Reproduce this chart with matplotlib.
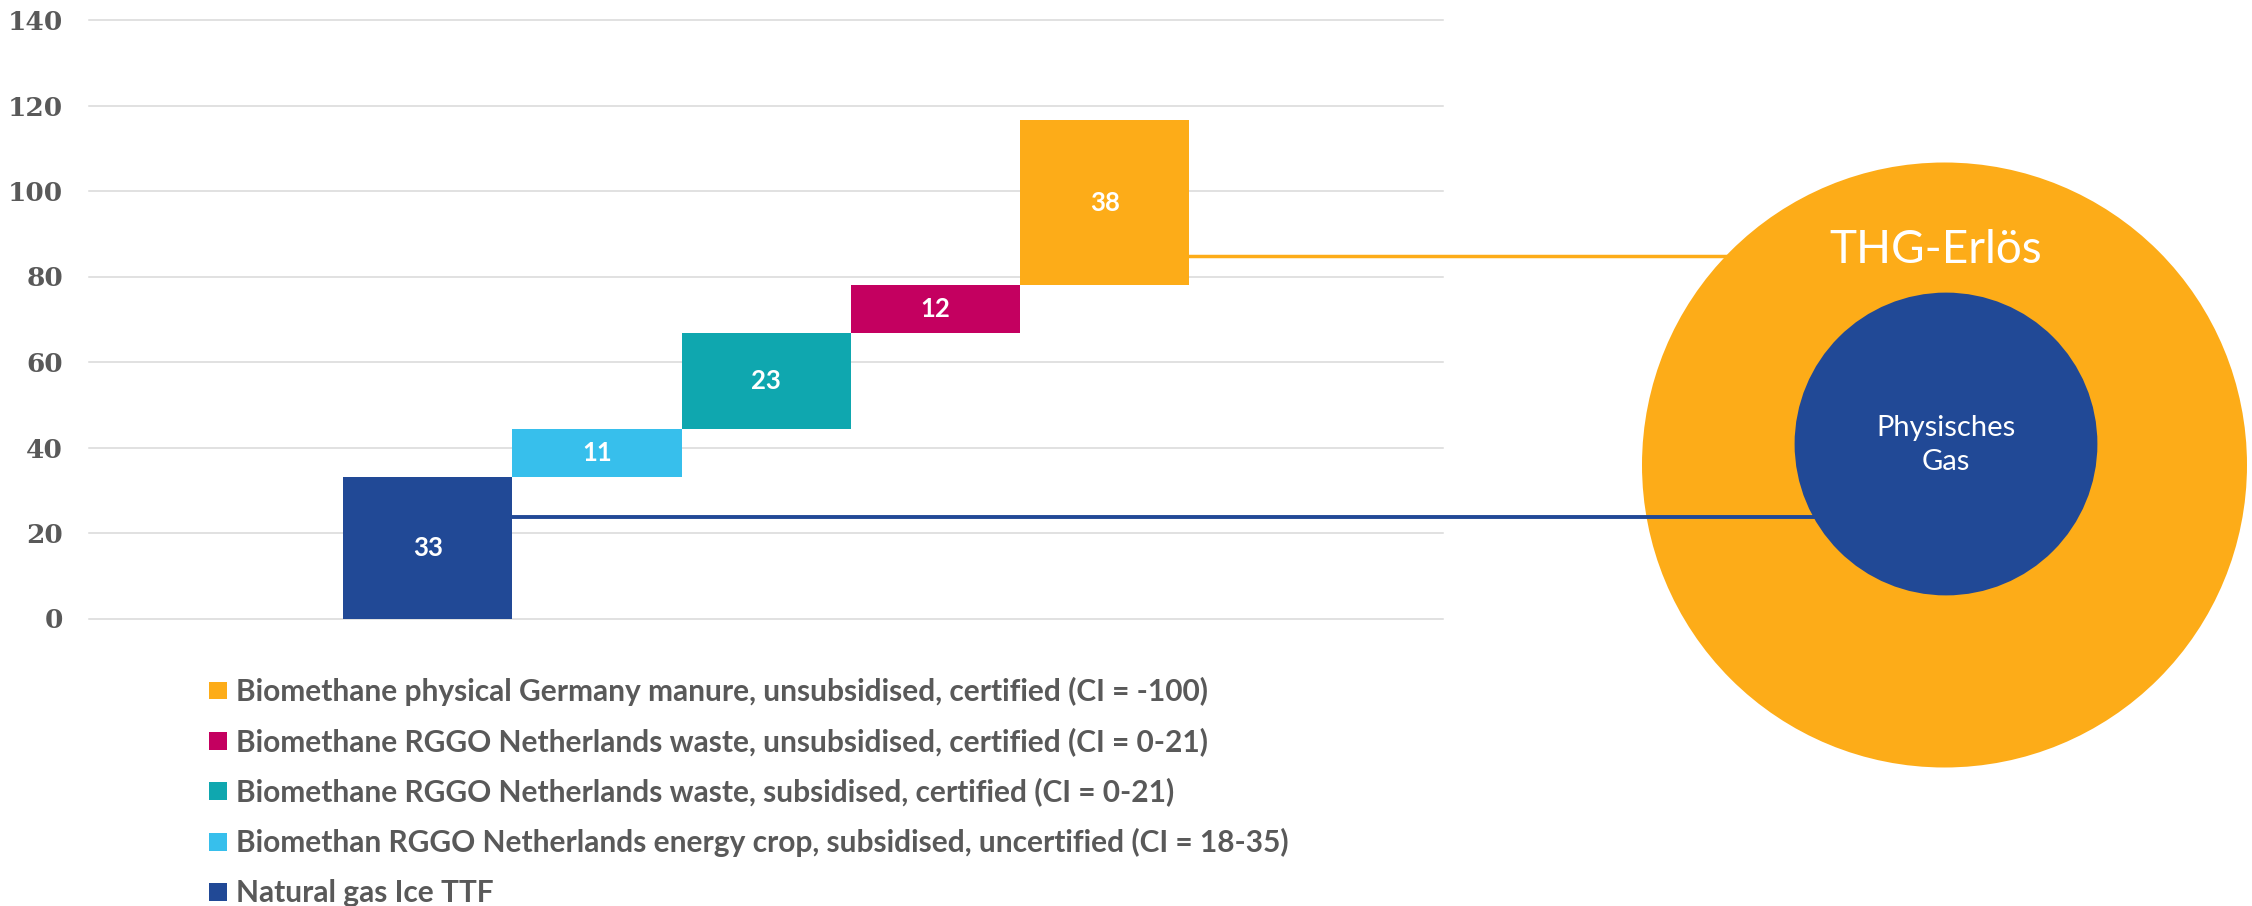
import matplotlib.pyplot as plt
from matplotlib.patches import Circle, Rectangle
import numpy as np

# Daten (Wasserfall, von unten nach oben)
series = [
    "Natural gas Ice TTF",
    "Biomethan RGGO Netherlands energy crop, subsidised, uncertified (CI = 18-35)",
    "Biomethane RGGO Netherlands waste, subsidised, certified (CI = 0-21)",
    "Biomethane RGGO Netherlands waste, unsubsidised, certified (CI = 0-21)",
    "Biomethane physical Germany manure, unsubsidised, certified (CI = -100)",
]
values = [33.1, 11.2, 22.4, 11.3, 38.5]
value_labels = ["33", "11", "23", "12", "38"]
colors = ["#214996", "#37bfec", "#0fa7af", "#c40060", "#fdac18"]
yticks = [0, 20, 40, 60, 80, 100, 120, 140]

# Verbindungslinien (Höhe im Diagramm)
gas_level = 23.7
thg_level = 84.7

W, H = 2252, 906
grey = "#595959"

fig = plt.figure(figsize=(W / 100, H / 100), dpi=100)
ax = fig.add_axes([89.5 / W, (H - 618.5) / H, (1443 - 89.5) / W, (618.5 - 20) / H])

x = np.arange(len(values))
bottoms = np.concatenate([[0], np.cumsum(values)[:-1]])
bars = ax.bar(x, values, bottom=bottoms, width=1.0, color=colors, zorder=3)
ax.bar_label(bars, labels=value_labels, label_type="center", color="white",
             fontsize=18.5, fontweight="bold", family="Lato")

ax.set_xlim(-2, 6)
ax.set_ylim(0, 140)
for t in yticks:
    ax.axhline(t, color="#d9d9d9", linewidth=1.1, zorder=1, clip_on=False)
ax.set_yticks(yticks)
ax.set_xticks([])
ax.tick_params(axis="y", length=0, pad=19, labelsize=19, labelcolor=grey)
for lab in ax.get_yticklabels():
    lab.set_family("DejaVu Serif")
    lab.set_fontweight("bold")
for s in ax.spines.values():
    s.set_visible(False)

# Overlay in Pixelkoordinaten für Kreise, Linien und Legende
ov = fig.add_axes([0, 0, 1, 1], zorder=2)
ov.set_xlim(0, W)
ov.set_ylim(H, 0)
ov.axis("off")
ov.patch.set_visible(False)

outer_c, outer_r = (1944.5, 465), 302.5
inner_c, inner_r = (1946, 444), 151.4

def to_px(xd, yd):
    px, py = ax.transData.transform((xd, yd))
    return px, H - py

# orange Linie unter dem großen Kreis
x0, y0 = to_px(x[-1] + 0.5, thg_level)
ov.plot([x0, outer_c[0]], [y0, y0], color=colors[-1], linewidth=2.5, zorder=1)
ov.add_patch(Circle(outer_c, outer_r, color=colors[-1], zorder=2, linewidth=0))
# blaue Linie über dem großen Kreis
x1, y1 = to_px(x[0] + 0.5, gas_level)
ov.plot([x1, inner_c[0]], [y1, y1], color=colors[0], linewidth=2.8, zorder=3)
ov.add_patch(Circle(inner_c, inner_r, color=colors[0], zorder=4, linewidth=0))

ov.text(1936, 250, "THG-Erlös", color="white", fontsize=33, family="Lato",
        ha="center", va="center", zorder=5)
ov.text(inner_c[0], 445, "Physisches\nGas", color="white", fontsize=21,
        family="Lato", ha="center", va="center", linespacing=1.35, zorder=5)

# Legende (oberster Eintrag = letzte Serie)
row_y = 690.5
for name, col in zip(series[::-1], colors[::-1]):
    ov.add_patch(Rectangle((209, row_y - 8.9), 17.7, 17.7, color=col, linewidth=0))
    ov.text(235.5, row_y + 10, name, color=grey, fontsize=21.5, family="Lato",
            fontweight="bold", ha="left", va="baseline")
    row_y += 50.4

fig.savefig("out.png", dpi=100)
